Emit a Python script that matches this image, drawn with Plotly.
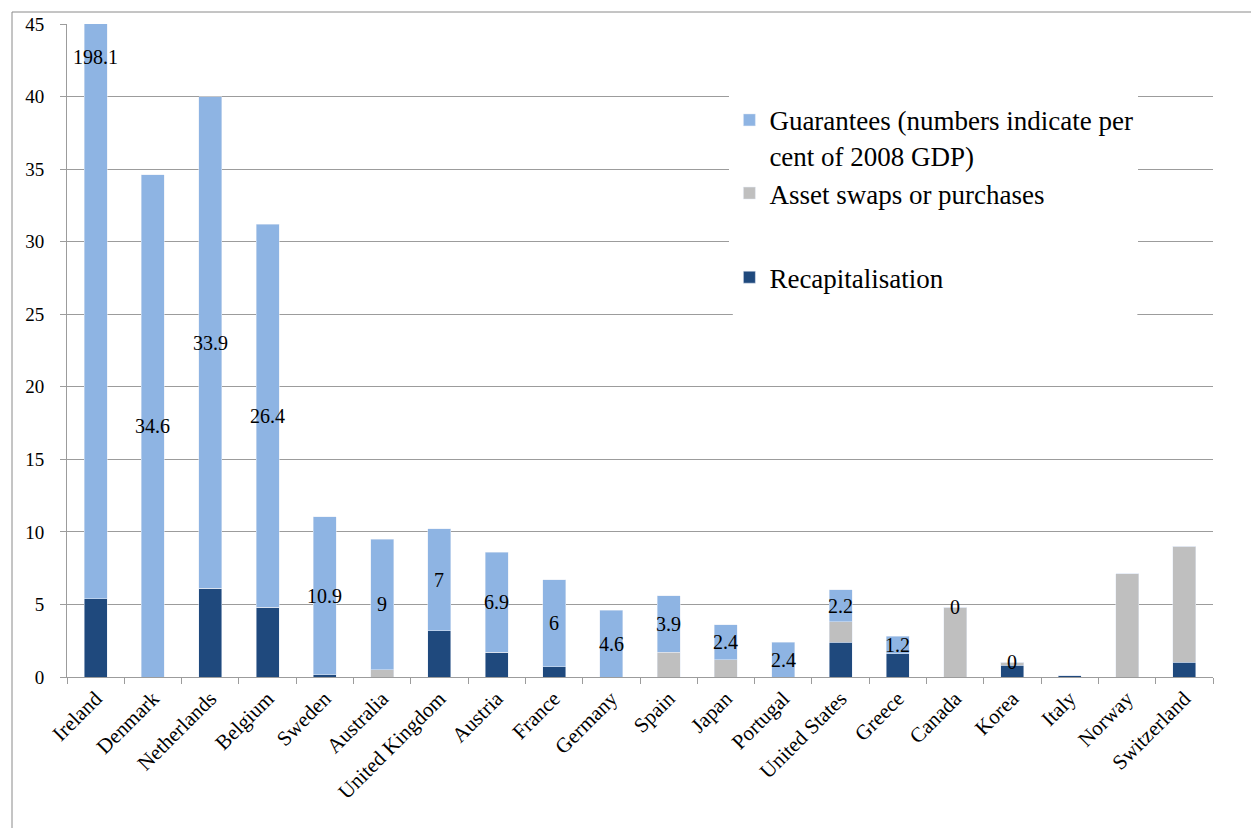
import plotly.graph_objects as go

# Bank-support measures by country, per cent of 2008 GDP
countries = ["Ireland", "Denmark", "Netherlands", "Belgium", "Sweden", "Australia",
             "United Kingdom", "Austria", "France", "Germany", "Spain", "Japan",
             "Portugal", "United States", "Greece", "Canada", "Korea", "Italy",
             "Norway", "Switzerland"]
recapitalisation = [5.4, 0, 6.1, 4.8, 0.15, 0, 3.2, 1.7, 0.7, 0, 0, 0,
                    0, 2.4, 1.6, 0, 0.8, 0.1, 0, 1.0]
asset_swaps = [0, 0, 0, 0, 0, 0.5, 0, 0, 0, 0, 1.7, 1.2,
               0, 1.4, 0, 4.8, 0.2, 0, 7.1, 8.0]
guarantees = [198.1, 34.6, 33.9, 26.4, 10.9, 9, 7, 6.9, 6, 4.6, 3.9, 2.4,
              2.4, 2.2, 1.2, 0, 0, None, None, None]
y_ticks = [0, 5, 10, 15, 20, 25, 30, 35, 40, 45]

Y_MAX = 45
FONT = "Liberation Serif, Times New Roman, serif"
GRID = "#9c9c9c"
DARK = "#1F497D"
GREY = "#BFBFBF"
LIGHT = "#8EB4E3"

fig = go.Figure()
fig.add_trace(go.Bar(x=countries, y=recapitalisation, name="Recapitalisation",
                     marker=dict(color=DARK), legendgroup="lower", legendrank=3))
fig.add_trace(go.Bar(x=countries, y=asset_swaps, name="Asset swaps or purchases",
                     marker=dict(color=GREY), legendgroup="upper", legendrank=2))
fig.add_trace(go.Bar(x=countries, y=[g if g is not None else 0 for g in guarantees],
                     name="Guarantees (numbers indicate per<br>cent of 2008 GDP)",
                     marker=dict(color=LIGHT), legendgroup="upper", legendrank=1))

# Guarantee value labels, centred in the guarantee segment (kept inside the axis range)
annotations = []
for c, r, a, g in zip(countries, recapitalisation, asset_swaps, guarantees):
    if g is None:
        continue
    mid = r + a + g / 2
    ypos = min(mid, Y_MAX - 2.3)
    annotations.append(dict(x=c, y=ypos, xref="x", yref="y", text=f"{g:g}",
                            showarrow=False,
                            font=dict(family=FONT, size=20, color="black")))

fig.update_layout(
    width=1251, height=828,
    margin=dict(l=67, r=38, t=24, b=151),
    paper_bgcolor="white", plot_bgcolor="white",
    barmode="stack", bargap=0.6,
    font=dict(family=FONT, size=19, color="black"),
    annotations=annotations,
    showlegend=True,
    legend=dict(x=0.578, y=0.89, xanchor="left", yanchor="top",
                bgcolor="white", traceorder="grouped",
                tracegroupgap=46, valign="top",
                font=dict(family=FONT, size=27, color="black"),
                itemwidth=30),
    shapes=[
        # outer chart frame
        dict(type="rect", xref="paper", yref="paper",
             x0=(12 - 67) / 1146, x1=1.2, y0=-0.5, y1=1 + 12 / 653,
             line=dict(color="#8a8a8a", width=1), layer="below"),
        # blank panel behind the legend, hiding the gridlines there
        dict(type="rect", xref="paper", yref="paper",
             x0=0.581, x1=0.934, y0=0.51, y1=0.9,
             fillcolor="white", line=dict(width=0), layer="above"),
    ],
)
fig.update_xaxes(showline=True, linecolor=GRID, linewidth=1,
                 ticks="outside", tickson="boundaries", ticklen=6, tickcolor=GRID,
                 tickangle=-45, tickfont=dict(family=FONT, size=21),
                 showgrid=False)
fig.update_yaxes(range=[0, Y_MAX], tickvals=y_ticks, showline=True, linecolor=GRID,
                 linewidth=1, ticks="outside", ticklen=6, tickcolor=GRID,
                 ticklabelstandoff=12,
                 showgrid=True, gridcolor=GRID, gridwidth=1, zeroline=False,
                 tickfont=dict(family=FONT, size=19))

fig.write_html("out.html")
